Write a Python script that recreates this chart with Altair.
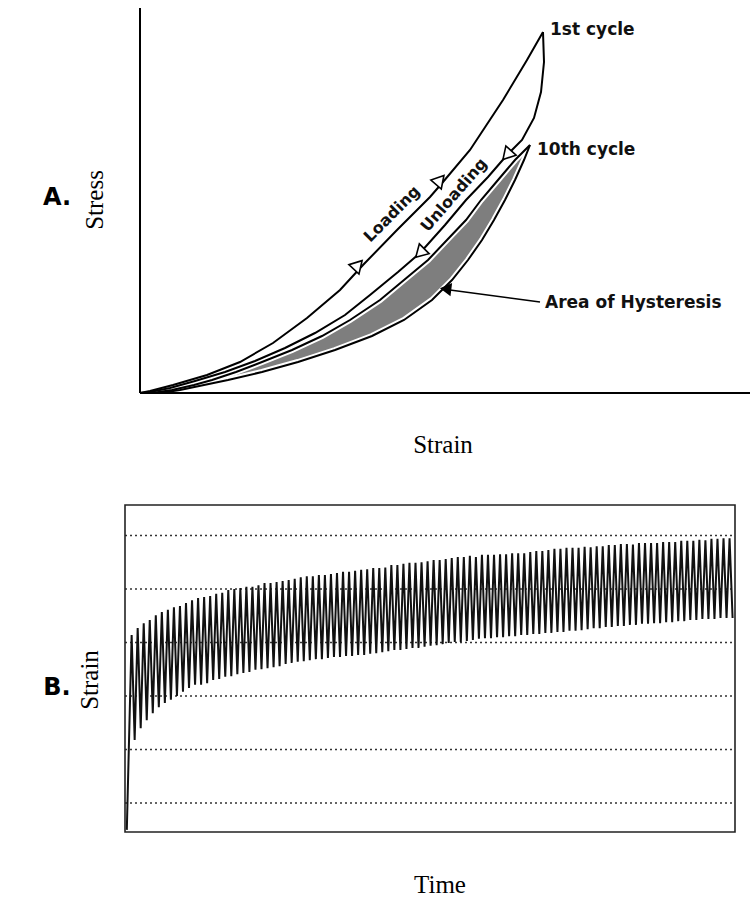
import altair as alt
import pandas as pd

# ---------------- Panel A : stress-strain hysteresis ----------------
l1_strain = [0.00, 0.10, 0.33, 0.67, 1.00, 1.33, 1.67, 2.00, 2.23, 2.57, 2.90, 3.03, 3.30, 3.63, 3.87, 4.03]
l1_stress = [0.00, 0.02, 0.08, 0.18, 0.31, 0.50, 0.75, 1.03, 1.28, 1.63, 1.96, 2.11, 2.43, 2.93, 3.33, 3.61]

u1_strain = [4.03, 4.04, 4.01, 3.94, 3.82, 3.67, 3.48, 3.26, 3.05, 2.80, 2.58, 2.30, 2.05, 1.75, 1.45, 1.15,
             0.85, 0.55, 0.30, 0.10, 0.00]
u1_stress = [3.61, 3.31, 3.01, 2.75, 2.53, 2.38, 2.16, 1.93, 1.68, 1.40, 1.21, 0.98, 0.78, 0.60, 0.45, 0.32,
             0.21, 0.12, 0.05, 0.01, 0.00]

band_stress = [0.00, 0.03, 0.08, 0.13, 0.21, 0.31, 0.43, 0.57, 0.73, 0.93, 1.13, 1.33, 1.53, 1.73, 1.93, 2.13, 2.33, 2.48]
l10_strain = [0.12, 0.32, 0.54, 0.72, 0.96, 1.22, 1.52, 1.82, 2.10, 2.40, 2.64, 2.88, 3.07, 3.26, 3.41, 3.58, 3.75, 3.90]
u10_strain = [0.20, 0.40, 0.64, 0.88, 1.22, 1.58, 1.95, 2.32, 2.64, 2.92, 3.12, 3.28, 3.42, 3.54, 3.65, 3.75, 3.84, 3.90]

# ---------------- Panel B : strain vs time under cyclic load ----------------
start_strain = 0.50
peak_strain = [
    4.14, 4.27, 4.36, 4.42, 4.51, 4.57, 4.61, 4.66, 4.68, 4.74,
    4.79, 4.83, 4.85, 4.87, 4.91, 4.93, 4.98, 5.00, 5.02, 5.04,
    5.04, 5.07, 5.11, 5.11, 5.13, 5.15, 5.17, 5.19, 5.22, 5.24,
    5.24, 5.26, 5.26, 5.28, 5.30, 5.32, 5.32, 5.34, 5.36, 5.37,
    5.39, 5.39, 5.40, 5.45, 5.45, 5.47, 5.49, 5.49, 5.50, 5.52,
    5.54, 5.54, 5.56, 5.58, 5.60, 5.60, 5.62, 5.60, 5.64, 5.64,
    5.64, 5.65, 5.65, 5.67, 5.67, 5.67, 5.69, 5.71, 5.71, 5.73,
    5.75, 5.75, 5.77, 5.77, 5.77, 5.79, 5.78, 5.80, 5.80, 5.82,
    5.82, 5.84, 5.84, 5.83, 5.86, 5.86, 5.86, 5.86, 5.88, 5.88,
    5.88, 5.90, 5.90, 5.90, 5.92, 5.91, 5.94, 5.94, 5.95, 5.95,
]
trough_strain = [
    2.18, 2.40, 2.55, 2.68, 2.79, 2.87, 2.93, 3.00, 3.08, 3.15,
    3.21, 3.21, 3.24, 3.30, 3.32, 3.36, 3.37, 3.41, 3.43, 3.45,
    3.49, 3.50, 3.52, 3.54, 3.56, 3.60, 3.62, 3.64, 3.65, 3.67,
    3.69, 3.69, 3.71, 3.73, 3.73, 3.75, 3.75, 3.77, 3.77, 3.79,
    3.80, 3.82, 3.84, 3.86, 3.86, 3.88, 3.90, 3.90, 3.92, 3.94,
    3.95, 3.97, 3.99, 4.01, 4.01, 4.03, 4.05, 4.07, 4.08, 4.08,
    4.10, 4.10, 4.12, 4.12, 4.14, 4.14, 4.16, 4.16, 4.18, 4.18,
    4.20, 4.20, 4.22, 4.22, 4.23, 4.25, 4.27, 4.27, 4.29, 4.29,
    4.31, 4.31, 4.33, 4.33, 4.35, 4.35, 4.36, 4.36, 4.38, 4.38,
    4.40, 4.40, 4.42, 4.42, 4.44, 4.44, 4.44, 4.46, 4.46, 4.46,
]
grid_levels = [1, 2, 3, 4, 5, 6]

SANS = "DejaVu Sans"
SERIF = "Liberation Serif"

# ---------------- tables ----------------
l1_df = pd.DataFrame({"strain": l1_strain, "stress": l1_stress, "i": range(len(l1_strain))})
u1_df = pd.DataFrame({"strain": u1_strain, "stress": u1_stress, "i": range(len(u1_strain))})
band_df = pd.DataFrame({"stress": band_stress, "l10": l10_strain, "u10": u10_strain})

times, strains = [0.3], [start_strain]
for k, (p, t) in enumerate(zip(peak_strain, trough_strain)):
    times += [k + 1.1, k + 1.6]
    strains += [p, t]
b_df = pd.DataFrame({"time": times, "strain": strains})
grid_df = pd.DataFrame({"level": grid_levels})

# scales: each panel gets its own pixel range inside one 750x912 canvas
XA = alt.Scale(domain=[0, 6.10], range=[140, 750], nice=False, zero=False)
YA = alt.Scale(domain=[0, 3.85], range=[393, 8], nice=False, zero=False)
XB = alt.Scale(domain=[0, 101], range=[125, 735], nice=False, zero=False)
YB = alt.Scale(domain=[0.46, 6.57], range=[832, 505], nice=False, zero=False)


def xa(field):
    return alt.X(field, type="quantitative", scale=XA, axis=None)


def ya(field):
    return alt.Y(field, type="quantitative", scale=YA, axis=None)


def one():
    return alt.Chart(pd.DataFrame({"k": [0]}))


def px_label(text, x, y, size, font, weight="normal", angle=0):
    return alt.Chart(pd.DataFrame({"label": [text]})).mark_text(
        font=font, fontSize=size, fontWeight=weight, angle=angle,
        align="center", baseline="middle", color="black"
    ).encode(x=alt.value(x), y=alt.value(y), text="label:N")


def data_label(text, x, y, size, angle=0, align="left", weight="bold"):
    return alt.Chart(pd.DataFrame({"label": [text]})).mark_text(
        font=SANS, fontSize=size, fontWeight=weight, angle=angle,
        align=align, baseline="middle", color="#111111"
    ).encode(x=alt.X(datum=x, scale=XA, axis=None), y=alt.Y(datum=y, scale=YA, axis=None), text="label:N")


def arrow_head(x, y, angle, fill="white", size=190):
    return one().mark_point(
        shape="triangle-up", filled=True, fill=fill, stroke="black",
        strokeWidth=1.6, size=size, angle=angle, opacity=1
    ).encode(x=alt.X(datum=x, scale=XA, axis=None), y=alt.Y(datum=y, scale=YA, axis=None))


LW = 2.0
base_band = alt.Chart(band_df)
band_area = base_band.mark_area(orient="horizontal", color="#7e7e7e").encode(
    y=ya("stress"), x=xa("l10"), x2="u10")
l10_halo = base_band.mark_line(color="white", strokeWidth=6).encode(
    x=xa("l10"), y=ya("stress"), order="stress:Q")
u10_halo = base_band.mark_line(color="white", strokeWidth=6).encode(
    x=xa("u10"), y=ya("stress"), order="stress:Q")
l10_line = base_band.mark_line(color="black", strokeWidth=LW).encode(
    x=xa("l10"), y=ya("stress"), order="stress:Q")
u10_line = base_band.mark_line(color="black", strokeWidth=LW).encode(
    x=xa("u10"), y=ya("stress"), order="stress:Q")

l1_line = alt.Chart(l1_df).mark_line(color="black", strokeWidth=LW).encode(
    x=xa("strain"), y=ya("stress"), order="i:Q")
u1_line = alt.Chart(u1_df).mark_line(color="black", strokeWidth=LW).encode(
    x=xa("strain"), y=ya("stress"), order="i:Q")

axis_y = one().mark_rule(color="black", strokeWidth=2).encode(
    x=alt.X(datum=0, scale=XA, axis=None), y=alt.Y(datum=0, scale=YA, axis=None), y2=alt.datum(3.85))
axis_x = one().mark_rule(color="black", strokeWidth=2).encode(
    y=alt.Y(datum=0, scale=YA, axis=None), x=alt.X(datum=0, scale=XA, axis=None), x2=alt.datum(6.10))

area_arrow = one().mark_rule(color="black", strokeWidth=1.6).encode(
    x=alt.X(datum=4.00, scale=XA, axis=None), y=alt.Y(datum=0.91, scale=YA, axis=None),
    x2=alt.datum(3.10), y2=alt.datum(1.03))

panel_a = alt.layer(
    band_area, l10_halo, u10_halo, l10_line, u10_line, l1_line, u1_line,
    axis_y, axis_x, area_arrow,
    arrow_head(2.18, 1.28, 43), arrow_head(3.00, 2.13, 41),
    arrow_head(3.67, 2.38, 222), arrow_head(2.80, 1.40, 225),
    arrow_head(3.06, 1.04, 277, fill="black", size=110),
    data_label("1st cycle", 4.10, 3.63, 17),
    data_label("10th cycle", 3.97, 2.43, 17),
    data_label("Area of Hysteresis", 4.05, 0.90, 17),
    data_label("Loading", 2.52, 1.79, 16, angle=315, align="center"),
    data_label("Unloading", 3.14, 1.98, 16, angle=311, align="center"),
    px_label("A.", 57, 198, 24, SANS, "bold"),
    px_label("Stress", 95, 200, 25, SERIF, angle=270),
    px_label("Strain", 443, 445, 25, SERIF),
)

xb = alt.X("time:Q", scale=XB, axis=None)
yb = alt.Y("strain:Q", scale=YB, axis=None)

b_grid = alt.Chart(grid_df).mark_rule(color="#333333", strokeWidth=1.5, strokeDash=[2, 3]).encode(
    y=alt.Y("level:Q", scale=YB, axis=None), x=alt.X(datum=0, scale=XB, axis=None), x2=alt.datum(101))
b_frame = one().mark_rect(filled=False, stroke="#222222", strokeWidth=1.6).encode(
    x=alt.X(datum=0, scale=XB, axis=None), x2=alt.datum(101),
    y=alt.Y(datum=0.46, scale=YB, axis=None), y2=alt.datum(6.57))
b_line = alt.Chart(b_df).mark_line(color="#111111", strokeWidth=2.0).encode(x=xb, y=yb)

panel_b = alt.layer(
    b_grid, b_line, b_frame,
    px_label("B.", 57, 688, 24, SANS, "bold"),
    px_label("Strain", 90, 680, 25, SERIF, angle=270),
    px_label("Time", 440, 885, 25, SERIF),
)

chart = alt.layer(panel_a, panel_b).resolve_scale(x="independent", y="independent").properties(
    width=750, height=912,
    padding=0,
    autosize=alt.AutoSizeParams(type="none"),
).configure_view(stroke="transparent")

chart.save("out.html", embed_options={"renderer": "svg", "actions": False})
